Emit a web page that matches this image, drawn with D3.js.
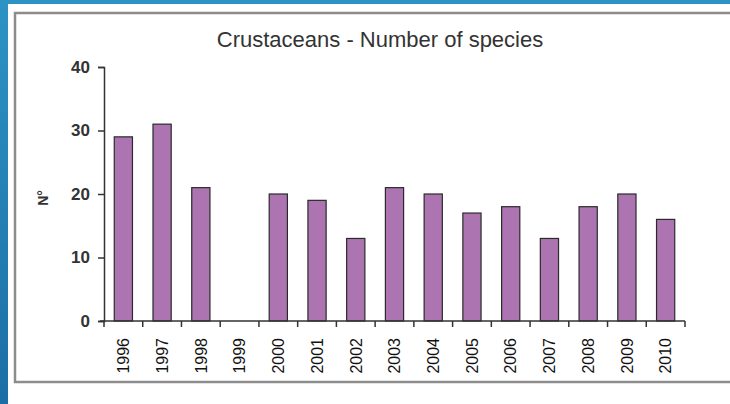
<!DOCTYPE html>
<html>
<head>
<script src="https://d3js.org/d3.v7.min.js"></script>
<style>
  body { margin: 0; }
  svg { display: block; font-family: "Liberation Sans", Arial, sans-serif; }
</style>
</head>
<body>
<svg width="730" height="404"></svg>
<script>
// data
const years = ["1996","1997","1998","1999","2000","2001","2002","2003","2004","2005","2006","2007","2008","2009","2010"];
const species = [29, 31, 21, 0, 20, 19, 13, 21, 20, 17, 18, 13, 18, 20, 16];
const yTicks = [0, 10, 20, 30, 40];

const svg = d3.select("svg");

// blue slide background
const defs = svg.append("defs");
const grad = defs.append("linearGradient").attr("id", "bg").attr("x1", 0).attr("y1", 0).attr("x2", 0).attr("y2", 1);
grad.append("stop").attr("offset", "0%").attr("stop-color", "#2d93c4");
grad.append("stop").attr("offset", "100%").attr("stop-color", "#1b6ea6");
svg.append("rect").attr("width", 730).attr("height", 404).attr("fill", "url(#bg)");

// white panel + grey frame (open on the right)
svg.append("rect").attr("x", 8).attr("y", 4).attr("width", 730).attr("height", 410).attr("fill", "#fff");
svg.append("rect").attr("x", 15).attr("y", 13).attr("width", 740).attr("height", 369)
    .attr("fill", "none").attr("stroke", "#8c8c8c").attr("stroke-width", 2.5);

const plotLeft = 104, plotRight = 685, plotTop = 67, plotBottom = 321;

const x = d3.scaleBand().domain(years).range([plotLeft, plotRight])
    .paddingInner(0.53).paddingOuter(0.265);
const y = d3.scaleLinear().domain([0, 40]).range([plotBottom, plotTop]);

// title
svg.append("text")
    .attr("x", 380).attr("y", 47)
    .attr("text-anchor", "middle")
    .style("font-size", "22px")
    .attr("fill", "#333")
    .text("Crustaceans - Number of species");

// bars
svg.selectAll(".bar")
    .data(years.map((d, i) => ({year: d, value: species[i]})).filter(d => d.value > 0))
    .enter().append("rect")
    .attr("class", "bar")
    .attr("x", d => x(d.year))
    .attr("y", d => y(d.value))
    .attr("width", x.bandwidth())
    .attr("height", d => y(0) - y(d.value))
    .attr("fill", "#ad74b2")
    .attr("stroke", "#2a2a2a")
    .attr("stroke-width", 1.2);

// y axis
const yAxis = svg.append("g")
    .attr("transform", `translate(${plotLeft},0)`)
    .call(d3.axisLeft(y).tickValues(yTicks).tickSize(6).tickPadding(8));
yAxis.select(".domain").attr("stroke", "#333").attr("stroke-width", 1.5);
yAxis.selectAll(".tick line").attr("stroke", "#333").attr("stroke-width", 1.5);
yAxis.selectAll(".tick text")
    .style("font-size", "17px").style("font-weight", "bold")
    .style("font-family", "'Liberation Sans', Arial, sans-serif")
    .attr("fill", "#333");

// x axis: labels at band centres, ticks on band boundaries
const xAxis = svg.append("g")
    .attr("transform", `translate(0,${plotBottom})`)
    .call(d3.axisBottom(x).tickSize(0));
xAxis.select(".domain").remove();
xAxis.selectAll(".tick text")
    .attr("transform", "rotate(-90)")
    .attr("x", -17).attr("y", 0).attr("dy", "0.36em")
    .style("text-anchor", "end")
    .style("font-size", "16px")
    .style("font-family", "'Liberation Sans', Arial, sans-serif")
    .attr("fill", "#111");

const gap = (x.step() - x.bandwidth()) / 2;
const edges = years.map(d => x(d) - gap).concat([x(years[years.length - 1]) + x.bandwidth() + gap]);
xAxis.append("line")
    .attr("x1", edges[0] - 4).attr("x2", edges[edges.length - 1])
    .attr("stroke", "#333").attr("stroke-width", 1.5);
xAxis.selectAll(".edge")
    .data(edges)
    .enter().append("line")
    .attr("class", "edge")
    .attr("x1", d => d).attr("x2", d => d)
    .attr("y1", 0).attr("y2", 6)
    .attr("stroke", "#333").attr("stroke-width", 1.5);

// y axis title
svg.append("text")
    .attr("transform", `translate(48,${(plotTop + plotBottom) / 2 + 4}) rotate(-90)`)
    .attr("text-anchor", "middle")
    .style("font-size", "14px").style("font-weight", "bold")
    .attr("fill", "#333")
    .text("N°");
</script>
</body>
</html>
